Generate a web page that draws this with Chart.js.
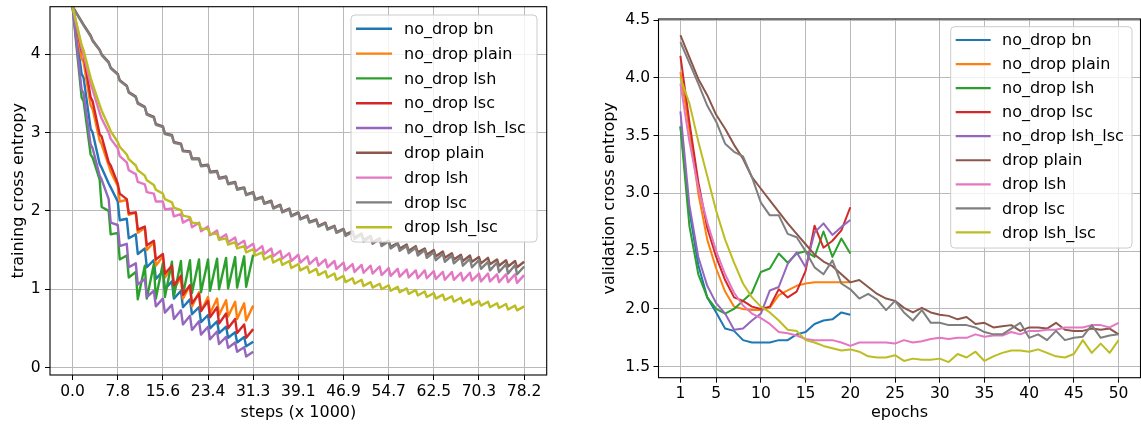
<!DOCTYPE html>
<html>
<head>
<meta charset="utf-8">
<script src="https://cdn.jsdelivr.net/npm/chart.js@4.4.1/dist/chart.umd.min.js"></script>
<style>
  html, body { margin: 0; padding: 0; background: #fff; }
  #wrap { position: relative; width: 1141px; height: 425px; overflow: hidden; }
  canvas { position: absolute; top: 0; }
</style>
</head>
<body>
<div id="wrap">
  <canvas id="train" width="570" height="425" style="left:0"></canvas>
  <canvas id="valid" width="571" height="425" style="left:570px"></canvas>
</div>
<script>
const seriesNames = ['no_drop bn', 'no_drop plain', 'no_drop lsh', 'no_drop lsc', 'no_drop lsh_lsc',
  'drop plain', 'drop lsh', 'drop lsc', 'drop lsh_lsc'];
const colors = ['#1f77b4', '#ff7f0e', '#2ca02c', '#d62728', '#9467bd',
  '#8c564b', '#e377c2', '#7f7f7f', '#bcbd22'];

// left panel: x in epochs, labelled in thousands of steps
const stepTickEpochs = [0, 5, 10, 15, 20, 25, 30, 35, 40, 45, 50];
const stepTickLabels = ['0.0', '7.8', '15.6', '23.4', '31.3', '39.1', '46.9', '54.7', '62.5', '70.3', '78.2'];
const trainTicks = [0, 1, 2, 3, 4];
const epochTicks = [1, 5, 10, 15, 20, 25, 30, 35, 40, 45, 50];
const validTicks = [1.5, 2.0, 2.5, 3.0, 3.5, 4.0, 4.5];

// training loss: value right after each epoch boundary (start) and at the epoch's end
const noDropBnStart = [4.61, 3.70, 3.00, 2.55, 2.30, 1.88, 1.65, 1.45, 1.28, 1.13, 1.00, 0.88, 0.77, 0.68, 0.58, 0.50, 0.44, 0.38, 0.32, 0.27];
const noDropBnEnd = [3.75, 3.05, 2.60, 2.35, 2.12, 1.90, 1.70, 1.52, 1.37, 1.23, 1.10, 0.98, 0.87, 0.77, 0.67, 0.59, 0.52, 0.45, 0.39, 0.33];
const noDropPlainStart = [4.61, 3.90, 3.30, 2.85, 2.50, 2.12, 1.95, 1.72, 1.50, 1.30, 1.15, 1.00, 0.88, 0.78, 0.72, 0.69, 0.67, 0.65, 0.62, 0.60];
const noDropPlainEnd = [3.95, 3.35, 2.90, 2.58, 2.32, 2.14, 1.98, 1.78, 1.60, 1.42, 1.28, 1.15, 1.05, 0.96, 0.90, 0.88, 0.86, 0.84, 0.82, 0.79];
const noDropLshStart = [4.61, 3.40, 2.68, 2.05, 1.70, 1.38, 1.15, 0.87, 0.88, 0.88, 0.90, 0.91, 0.93, 0.95, 0.96, 0.98, 1.00, 1.01, 1.02, 1.03];
const noDropLshEnd = [3.45, 2.72, 2.40, 2.00, 1.72, 1.43, 1.22, 1.30, 1.32, 1.33, 1.35, 1.36, 1.37, 1.38, 1.38, 1.39, 1.40, 1.41, 1.42, 1.44];
const noDropLscStart = [4.61, 4.00, 3.40, 2.95, 2.58, 2.22, 1.97, 1.76, 1.56, 1.38, 1.20, 1.05, 0.93, 0.82, 0.72, 0.64, 0.56, 0.50, 0.44, 0.38];
const noDropLscEnd = [4.05, 3.45, 2.98, 2.62, 2.35, 2.15, 1.98, 1.80, 1.62, 1.45, 1.30, 1.17, 1.05, 0.94, 0.85, 0.77, 0.69, 0.62, 0.55, 0.49];
const noDropLshLscStart = [4.61, 3.50, 2.80, 2.40, 1.85, 1.55, 1.28, 1.06, 0.90, 0.78, 0.70, 0.62, 0.55, 0.48, 0.42, 0.36, 0.30, 0.25, 0.20, 0.14];
const noDropLshLscEnd = [3.55, 2.85, 2.45, 2.15, 1.82, 1.58, 1.33, 1.13, 0.98, 0.88, 0.80, 0.73, 0.66, 0.59, 0.52, 0.46, 0.39, 0.32, 0.26, 0.20];

const dropPlainStart = [4.61, 4.38, 4.18, 4.00, 3.83, 3.67, 3.52, 3.38, 3.24, 3.11, 2.99, 2.88, 2.77, 2.67, 2.58, 2.50, 2.42, 2.35, 2.28, 2.21,
  2.15, 2.10, 2.04, 1.99, 1.94, 1.90, 1.86, 1.81, 1.77, 1.73, 1.70, 1.66, 1.63, 1.60, 1.57, 1.54, 1.52, 1.49, 1.47, 1.44,
  1.42, 1.40, 1.38, 1.36, 1.35, 1.33, 1.32, 1.30, 1.29, 1.28];
const dropPlainEnd = [4.42, 4.24, 4.06, 3.90, 3.75, 3.60, 3.46, 3.33, 3.20, 3.08, 2.97, 2.86, 2.76, 2.67, 2.59, 2.51, 2.44, 2.37, 2.30, 2.24,
  2.18, 2.13, 2.08, 2.03, 1.98, 1.94, 1.89, 1.85, 1.81, 1.77, 1.74, 1.71, 1.68, 1.65, 1.62, 1.59, 1.57, 1.55, 1.52, 1.50,
  1.48, 1.46, 1.44, 1.43, 1.41, 1.40, 1.38, 1.37, 1.36, 1.35];
const dropLshStart = [4.61, 4.00, 3.55, 3.18, 2.92, 2.70, 2.52, 2.37, 2.24, 2.12, 2.02, 1.93, 1.85, 1.79, 1.74, 1.69, 1.64, 1.60, 1.56, 1.52,
  1.48, 1.45, 1.42, 1.39, 1.36, 1.34, 1.32, 1.30, 1.28, 1.26, 1.24, 1.22, 1.21, 1.20, 1.18, 1.17, 1.16, 1.15, 1.14, 1.14,
  1.13, 1.12, 1.12, 1.11, 1.11, 1.10, 1.10, 1.09, 1.09, 1.08];
const dropLshEnd = [4.08, 3.62, 3.25, 3.00, 2.80, 2.62, 2.47, 2.34, 2.22, 2.12, 2.03, 1.96, 1.90, 1.85, 1.80, 1.75, 1.70, 1.66, 1.62, 1.58,
  1.55, 1.52, 1.49, 1.46, 1.44, 1.42, 1.40, 1.38, 1.36, 1.34, 1.32, 1.31, 1.30, 1.29, 1.27, 1.26, 1.25, 1.24, 1.24, 1.23,
  1.22, 1.22, 1.21, 1.21, 1.20, 1.20, 1.19, 1.19, 1.19, 1.18];
const dropLscStart = [4.61, 4.37, 4.17, 3.99, 3.82, 3.66, 3.51, 3.37, 3.23, 3.10, 2.98, 2.87, 2.76, 2.66, 2.57, 2.49, 2.41, 2.34, 2.27, 2.20,
  2.14, 2.09, 2.03, 1.98, 1.93, 1.89, 1.85, 1.80, 1.76, 1.72, 1.68, 1.64, 1.61, 1.58, 1.55, 1.52, 1.49, 1.46, 1.43, 1.40,
  1.37, 1.35, 1.33, 1.30, 1.28, 1.26, 1.24, 1.22, 1.20, 1.19];
const dropLscEnd = [4.41, 4.23, 4.05, 3.89, 3.74, 3.59, 3.45, 3.32, 3.19, 3.07, 2.96, 2.85, 2.75, 2.66, 2.58, 2.50, 2.43, 2.36, 2.29, 2.23,
  2.17, 2.12, 2.07, 2.02, 1.97, 1.93, 1.88, 1.84, 1.80, 1.76, 1.73, 1.70, 1.67, 1.64, 1.61, 1.58, 1.55, 1.53, 1.50, 1.47,
  1.45, 1.43, 1.41, 1.39, 1.37, 1.35, 1.34, 1.32, 1.31, 1.29];
const dropLshLscStart = [4.61, 4.05, 3.62, 3.28, 3.02, 2.82, 2.66, 2.52, 2.39, 2.27, 2.15, 2.04, 1.94, 1.85, 1.77, 1.70, 1.63, 1.57, 1.52, 1.47,
  1.43, 1.38, 1.34, 1.31, 1.27, 1.24, 1.21, 1.18, 1.15, 1.12, 1.09, 1.07, 1.04, 1.02, 1.00, 0.98, 0.96, 0.94, 0.92, 0.90,
  0.88, 0.86, 0.84, 0.82, 0.80, 0.79, 0.77, 0.76, 0.74, 0.73];
const dropLshLscEnd = [4.12, 3.70, 3.35, 3.08, 2.88, 2.72, 2.58, 2.45, 2.33, 2.22, 2.11, 2.01, 1.92, 1.84, 1.77, 1.71, 1.65, 1.60, 1.55, 1.51,
  1.47, 1.43, 1.39, 1.36, 1.32, 1.29, 1.26, 1.23, 1.20, 1.17, 1.14, 1.12, 1.09, 1.07, 1.05, 1.03, 1.01, 0.99, 0.97, 0.95,
  0.93, 0.91, 0.89, 0.87, 0.85, 0.84, 0.82, 0.81, 0.79, 0.78];

// validation loss per epoch
const noDropBnVal = [3.58, 2.85, 2.38, 2.10, 1.97, 1.83, 1.81, 1.73, 1.71, 1.71, 1.71, 1.73, 1.73, 1.78, 1.80, 1.87, 1.90, 1.91, 1.97, 1.95];
const noDropPlainVal = [4.05, 3.55, 3.00, 2.60, 2.35, 2.15, 2.02, 2.00, 1.99, 1.99, 2.01, 2.12, 2.16, 2.20, 2.22, 2.23, 2.23, 2.23, 2.23, 2.23];
const noDropLshVal = [3.58, 2.72, 2.30, 2.10, 2.00, 1.96, 2.00, 2.07, 2.14, 2.32, 2.35, 2.48, 2.40, 2.48, 2.50, 2.45, 2.67, 2.45, 2.61, 2.48];
const noDropLscVal = [4.19, 3.62, 3.10, 2.70, 2.45, 2.25, 2.10, 2.07, 2.02, 2.00, 2.02, 2.17, 2.10, 2.15, 2.33, 2.72, 2.53, 2.59, 2.68, 2.88];
const noDropLshLscVal = [3.71, 2.90, 2.45, 2.20, 2.05, 1.96, 1.82, 1.83, 1.90, 1.96, 2.16, 2.19, 2.39, 2.49, 2.36, 2.66, 2.74, 2.64, 2.71, 2.77];
const dropPlainVal = [4.37, 4.18, 3.99, 3.85, 3.68, 3.56, 3.42, 3.30, 3.14, 3.04, 2.94, 2.84, 2.74, 2.65, 2.56, 2.47, 2.41, 2.37, 2.30, 2.23,
  2.25, 2.19, 2.13, 2.09, 2.07, 2.01, 1.97, 2.01, 1.97, 1.95, 1.94, 1.91, 1.93, 1.87, 1.88, 1.84, 1.85, 1.86, 1.81, 1.84,
  1.84, 1.83, 1.88, 1.82, 1.81, 1.81, 1.83, 1.82, 1.83, 1.78];
const dropLshVal = [3.95, 3.45, 3.05, 2.75, 2.50, 2.30, 2.14, 2.03, 1.96, 1.92, 1.87, 1.80, 1.79, 1.77, 1.74, 1.73, 1.73, 1.73, 1.71, 1.68,
  1.71, 1.71, 1.71, 1.71, 1.70, 1.73, 1.71, 1.72, 1.74, 1.75, 1.74, 1.75, 1.75, 1.78, 1.76, 1.77, 1.77, 1.80, 1.78, 1.81,
  1.81, 1.82, 1.82, 1.84, 1.84, 1.84, 1.86, 1.86, 1.84, 1.88];
const dropLscVal = [4.31, 4.13, 3.95, 3.76, 3.62, 3.43, 3.36, 3.32, 3.14, 2.92, 2.81, 2.81, 2.65, 2.62, 2.50, 2.36, 2.30, 2.42, 2.22, 2.17,
  2.09, 2.13, 2.08, 1.99, 2.07, 1.97, 1.90, 1.99, 1.88, 1.88, 1.86, 1.86, 1.86, 1.84, 1.80, 1.78, 1.78, 1.83, 1.88, 1.75,
  1.78, 1.73, 1.81, 1.73, 1.75, 1.76, 1.86, 1.75, 1.77, 1.78];
const dropLshLscVal = [4.00, 3.78, 3.45, 3.15, 2.85, 2.60, 2.40, 2.22, 2.10, 2.02, 1.97, 1.90, 1.82, 1.81, 1.73, 1.71, 1.68, 1.66, 1.64, 1.65,
  1.63, 1.59, 1.58, 1.58, 1.60, 1.55, 1.57, 1.56, 1.56, 1.57, 1.54, 1.61, 1.58, 1.63, 1.55, 1.59, 1.62, 1.64, 1.64, 1.63,
  1.65, 1.62, 1.59, 1.58, 1.61, 1.73, 1.62, 1.70, 1.62, 1.73];

const trainStarts = [noDropBnStart, noDropPlainStart, noDropLshStart, noDropLscStart, noDropLshLscStart,
  dropPlainStart, dropLshStart, dropLscStart, dropLshLscStart];
const trainEnds = [noDropBnEnd, noDropPlainEnd, noDropLshEnd, noDropLscEnd, noDropLshLscEnd,
  dropPlainEnd, dropLshEnd, dropLscEnd, dropLshLscEnd];
const validSeries = [noDropBnVal, noDropPlainVal, noDropLshVal, noDropLscVal, noDropLshLscVal,
  dropPlainVal, dropLshVal, dropLscVal, dropLshLscVal];

Chart.defaults.font.family = "'DejaVu Sans', sans-serif";
Chart.defaults.font.size = 16;
Chart.defaults.color = '#000';

// sawtooth: drop at the epoch boundary, then drift until the epoch ends
function sawtooth(start, end) {
  const pts = [];
  start.forEach((s, k) => {
    pts.push({x: k === 0 ? 0 : k + 0.22, y: s});
    pts.push({x: k + 1, y: end[k]});
  });
  return pts;
}

const frameAndLegend = {
  id: 'frameAndLegend',
  afterDraw(chart, args, o) {
    const {ctx, chartArea: a} = chart;
    ctx.save();
    ctx.strokeStyle = '#000';
    ctx.lineWidth = 1.1;
    ctx.strokeRect(a.left, a.top, a.right - a.left, a.bottom - a.top);

    ctx.beginPath();
    ctx.roundRect(o.x, o.y, o.w, o.h, 4);
    ctx.fillStyle = 'rgba(255,255,255,0.8)';
    ctx.fill();
    ctx.strokeStyle = '#cccccc';
    ctx.lineWidth = 1;
    ctx.stroke();
    ctx.font = "16px 'DejaVu Sans'";
    ctx.textBaseline = 'middle';
    chart.data.datasets.forEach((ds, i) => {
      const y = o.rowY + i * o.rowGap;
      ctx.strokeStyle = ds.borderColor;
      ctx.lineWidth = o.lineWidth;
      ctx.beginPath();
      ctx.moveTo(o.x0, y);
      ctx.lineTo(o.x1, y);
      ctx.stroke();
      ctx.fillStyle = '#000';
      ctx.fillText(ds.label, o.textX, y + 1);
    });
    ctx.restore();
  }
};

function axis(opts) {
  return {
    type: 'linear',
    min: opts.min,
    max: opts.max,
    title: {display: true, text: opts.title, font: {size: 16}, padding: opts.titlePad},
    grid: {color: '#b9b9b9', lineWidth: 1, drawTicks: true, tickLength: 5, tickColor: '#000', tickWidth: 1},
    border: {display: false},
    ticks: {autoSkip: false, maxRotation: 0, padding: opts.tickPad, font: {size: 15.5}, color: '#000',
      callback: opts.label},
    afterBuildTicks: s => { s.ticks = opts.ticks.map(v => ({value: v})); },
    afterFit: s => {
      if (opts.horizontal) s.height = opts.size; else s.width = opts.size;
      s.paddingLeft = 0; s.paddingRight = 0; s.paddingTop = 0; s.paddingBottom = 0;
    }
  };
}

function lineSet(i, data, width) {
  return {
    label: seriesNames[i], data, borderColor: colors[i], backgroundColor: colors[i],
    borderWidth: width, pointRadius: 0, tension: 0, fill: false,
    borderJoinStyle: 'round', order: seriesNames.length - i
  };
}

new Chart(document.getElementById('train'), {
  type: 'line',
  data: {datasets: seriesNames.map((n, i) => lineSet(i, sawtooth(trainStarts[i], trainEnds[i]), 2.4))},
  options: {
    responsive: false, animation: false, devicePixelRatio: 1, events: [],
    layout: {padding: {left: 0, top: 6.7, right: 23.3, bottom: 0}},
    plugins: {
      legend: {display: false}, tooltip: {enabled: false},
      frameAndLegend: {x: 351, y: 15, w: 186, h: 227, x0: 356, x1: 392, textX: 404,
        rowY: 28.8, rowGap: 24.8, lineWidth: 2.4}
    },
    scales: {
      x: axis({min: -2.5, max: 52.5, ticks: stepTickEpochs, horizontal: true, size: 50,
        title: 'steps (x 1000)', titlePad: {top: 0, bottom: 2.4}, tickPad: 2.4,
        label: (v, idx) => stepTickLabels[idx]}),
      y: axis({min: -0.096, max: 4.608, ticks: trainTicks, horizontal: false, size: 50,
        title: 'training cross entropy', titlePad: {top: 8.9, bottom: 0}, tickPad: 4.5,
        label: v => String(v)})
    }
  },
  plugins: [frameAndLegend]
});

new Chart(document.getElementById('valid'), {
  type: 'line',
  data: {datasets: seriesNames.map((n, i) => lineSet(i, validSeries[i].map((v, k) => ({x: k + 1, y: v})), 2))},
  options: {
    responsive: false, animation: false, devicePixelRatio: 1, events: [],
    layout: {padding: {left: 0, top: 19, right: 0.5, bottom: 0}},
    plugins: {
      legend: {display: false}, tooltip: {enabled: false},
      frameAndLegend: {x: 380.7, y: 26.7, w: 181.3, h: 221.3, x0: 385.7, x1: 420.7, textX: 432,
        rowY: 40, rowGap: 24.05, lineWidth: 2.2}
    },
    scales: {
      x: axis({min: -1.45, max: 52.45, ticks: epochTicks, horizontal: true, size: 47.3,
        title: 'epochs', titlePad: {top: 0, bottom: 2.4}, tickPad: 2,
        label: v => String(v)}),
      y: axis({min: 1.405, max: 4.509, ticks: validTicks, horizontal: false, size: 88.5,
        title: 'validation cross entropy', titlePad: {top: 30.4, bottom: 0}, tickPad: 3.5,
        label: v => v.toFixed(1)})
    }
  },
  plugins: [frameAndLegend]
});
</script>
</body>
</html>
